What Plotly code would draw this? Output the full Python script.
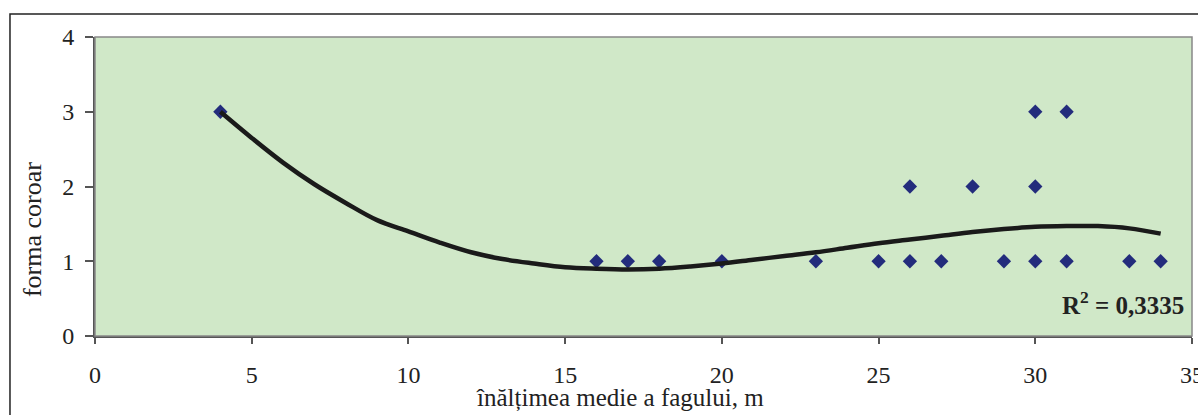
import plotly.graph_objects as go

# data
height_m = [4, 16, 17, 18, 20, 23, 25, 26, 26, 27, 28, 29, 30, 30, 30, 31, 31, 33, 34]
crown_form = [3, 1, 1, 1, 1, 1, 1, 2, 1, 1, 2, 1, 3, 2, 1, 3, 1, 1, 1]

# polynomial trendline as drawn in the chart
trend_x = [4, 5, 6, 7, 8, 9, 10, 11, 12, 13, 14, 15, 16, 17, 18, 19,
           20, 21, 22, 23, 24, 25, 26, 27, 28, 29, 30, 31, 32, 33, 34]
trend_y = [3.00, 2.65, 2.32, 2.03, 1.78, 1.55, 1.40, 1.25, 1.12, 1.03, 0.97,
           0.92, 0.90, 0.89, 0.90, 0.93, 0.97, 1.02, 1.07, 1.12, 1.18, 1.24,
           1.29, 1.34, 1.39, 1.43, 1.46, 1.47, 1.47, 1.44, 1.37]

x_ticks = [0, 5, 10, 15, 20, 25, 30, 35]
y_ticks = [0, 1, 2, 3, 4]

fig = go.Figure()
fig.add_trace(go.Scatter(x=height_m, y=crown_form, mode="markers",
                         marker=dict(symbol="diamond", size=11, color="#232C7C"),
                         showlegend=False))
fig.add_trace(go.Scatter(x=trend_x, y=trend_y, mode="lines", line_shape="spline",
                         line=dict(color="#1a1a1a", width=4.5), showlegend=False))

font = "Liberation Serif, Times New Roman, serif"
fig.update_layout(
    width=1198, height=415,
    margin=dict(l=95, r=6, t=37, b=79, autoexpand=False),
    paper_bgcolor="white", plot_bgcolor="#D0E8C8",
    font=dict(family=font, size=24, color="#222"),
    xaxis=dict(range=[0, 35], tickvals=x_ticks, ticks="outside", ticklen=6,
               tickcolor="#555", tickwidth=1.5, showline=True, linecolor="#555",
               linewidth=2, showgrid=False, zeroline=False, automargin=False,
               ticklabeloverflow="allow", ticklabelstandoff=10,
               tickfont=dict(size=24, family=font, color="#222")),
    yaxis=dict(range=[0, 4], tickvals=y_ticks, ticks="outside", ticklen=8,
               tickcolor="#555", tickwidth=1.5, showline=True, linecolor="#555",
               linewidth=2, showgrid=False, zeroline=False, automargin=False,
               ticklabelstandoff=6,
               tickfont=dict(size=24, family=font, color="#222")),
    shapes=[
        dict(type="rect", xref="paper", yref="paper", x0=0, x1=1, y0=0, y1=1,
             line=dict(color="#888", width=1.5)),
        dict(type="rect", xref="paper", yref="paper", x0=-0.0775, x1=1.2,
             y0=-0.5, y1=1.0769, line=dict(color="#222", width=1.5)),
    ],
    annotations=[
        dict(text="forma coroar", xref="paper", yref="paper", x=-0.0574, y=0.3545,
             textangle=-90, showarrow=False, font=dict(size=26, family=font, color="#222"),
             xanchor="center", yanchor="middle"),
        dict(text="înălțimea medie a fagului, m", xref="paper", yref="paper",
             x=0.4786, y=-0.207, showarrow=False, font=dict(size=25, family=font, color="#222"),
             xanchor="center", yanchor="middle"),
        dict(text="<b>R<sup>2</sup> = 0,3335</b>", xref="paper", yref="paper",
             x=0.9945, y=0.110, showarrow=False, font=dict(size=25, family=font, color="#222"),
             xanchor="right", yanchor="middle"),
    ],
)
fig.write_html("out.html")
